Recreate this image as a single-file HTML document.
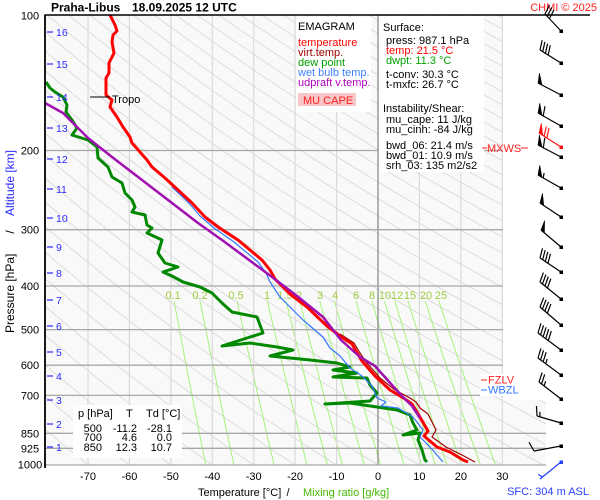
<!DOCTYPE html>
<html>
<head>
<meta charset="utf-8">
<style>
html,body{margin:0;padding:0;background:#fff;}
svg{display:block;font-family:"Liberation Sans",Arial,sans-serif;}
</style>
</head>
<body>
<svg id="s" width="600" height="500" viewBox="0 0 600 500" xmlns="http://www.w3.org/2000/svg">
<defs>
<clipPath id="pc"><polygon points="45,15 503,15 503,400 546,400 546,465 45,465"/></clipPath>
</defs>
<rect width="600" height="500" fill="#fff"/>
<polygon points="45,15 503,15 503,400 546,400 546,465 45,465" fill="#f9f9f9"/>
<g clip-path="url(#pc)">
  <g id="adiab" fill="none" stroke="#d6d6d6" stroke-width="0.8"></g>
  <g id="mix" fill="none" stroke="#a6f27a" stroke-width="1"></g>
  <g id="iso" stroke="#dadada" stroke-width="1.2"></g>
</g>
<!-- 0 C line -->
<line x1="378" y1="15" x2="378" y2="465" stroke="#8c8c8c" stroke-width="1.3"/>
<!-- pressure lines -->
<g stroke="#a8a8a8" stroke-width="1.3">
<line x1="45" y1="150.5" x2="503" y2="150.5"/>
<line x1="45" y1="229.7" x2="503" y2="229.7"/>
<line x1="45" y1="286" x2="503" y2="286"/>
<line x1="45" y1="329.6" x2="503" y2="329.6"/>
<line x1="45" y1="365.2" x2="503" y2="365.2"/>
<line x1="45" y1="395.4" x2="503" y2="395.4"/>
<line x1="45" y1="433.3" x2="546" y2="433.3"/>
<line x1="45" y1="448.3" x2="546" y2="448.3"/>
<line x1="45" y1="465" x2="546" y2="465"/>
</g>
<!-- mixing ratio labels -->
<g font-size="11" fill="#9ccc3c" text-anchor="middle">
<text x="173" y="299">0.1</text>
<text x="200" y="299">0.2</text>
<text x="236" y="299">0.5</text>
<text x="267" y="299">1</text>
<text x="285" y="299">1.5</text>
<text x="299" y="299">2</text>
<text x="320" y="299">3</text>
<text x="335" y="299">4</text>
<text x="356" y="299">6</text>
<text x="372" y="299">8</text>
<text x="385" y="299">10</text>
<text x="397" y="299">12</text>
<text x="410" y="299">15</text>
<text x="426" y="299">20</text>
<text x="441" y="299">25</text>
</g>
<!-- legend box -->
<rect x="296" y="17" width="75" height="95" fill="#fff"/>
<g font-size="11">
<text x="298" y="30" fill="#000">EMAGRAM</text>
<text x="298" y="46" fill="#ff0000">temperature</text>
<text x="298" y="56" fill="#a00000">virt.temp.</text>
<text x="298" y="66" fill="#00a000">dew point</text>
<text x="298" y="76" fill="#3f7fff">wet bulb temp.</text>
<text x="298" y="86" fill="#b000c0">udpraft v.temp.</text>
</g>
<rect x="298" y="93" width="58" height="13" fill="#f8c6c6"/>
<text x="303" y="104" font-size="11" fill="#ff2020">MU CAPE</text>
<!-- info box -->
<rect x="379" y="16" width="105" height="156" fill="#fff"/>
<g font-size="11" fill="#000">
<text x="383" y="31">Surface:</text>
<text x="386" y="44">press: 987.1 hPa</text>
<text x="386" y="54" fill="#ff0000">temp: 21.5 °C</text>
<text x="386" y="64" fill="#00a000">dwpt: 11.3 °C</text>
<text x="386" y="78">t-conv: 30.3 °C</text>
<text x="386" y="88">t-mxfc: 26.7 °C</text>
<text x="383" y="112">Instability/Shear:</text>
<text x="386" y="123">mu_cape: 11 J/kg</text>
<text x="386" y="133">mu_cinh: -84 J/kg</text>
<text x="386" y="149">bwd_06: 21.4 m/s</text>
<text x="386" y="159">bwd_01: 10.9 m/s</text>
<text x="386" y="169">srh_03: 135 m2/s2</text>
</g>
<!-- MXWS -->
<line x1="482" y1="148" x2="487" y2="148" stroke="#ff2020" stroke-width="1"/>
<text x="487" y="152" font-size="11" fill="#ff2020">MXWS</text>
<line x1="521" y1="148" x2="528" y2="148" stroke="#ff2020" stroke-width="1"/>
<!-- table -->
<rect x="73" y="405" width="109" height="53" fill="#fff"/>
<g font-size="11" fill="#000">
<text x="78" y="417">p [hPa]</text>
<text x="126" y="417">T</text>
<text x="146" y="417">Td [°C]</text>
<g text-anchor="end">
<text x="102" y="432">500</text><text x="137" y="432">-11.2</text><text x="172" y="432">-28.1</text>
<text x="102" y="441">700</text><text x="137" y="441">4.6</text><text x="172" y="441">0.0</text>
<text x="102" y="451">850</text><text x="137" y="451">12.3</text><text x="172" y="451">10.7</text>
</g>
</g>
<!-- curves -->
<polyline fill="none" stroke="#008800" stroke-width="3" stroke-linejoin="round" points="46,82 50,88 55,92 63,97 67,105 66,112 72,120 77,128 72,135 88,140 97,147 98,158 108,167 112,177 122,183 125,193 132,200 135,207 132,212 145,215 147,225 152,228 147,233 162,240 158,253 165,263 178,267 163,272 172,276 183,282 200,287 212,293 222,303 232,312 257,317 263,333 247,338 222,346 250,343 277,347 293,350 270,356 310,360 337,363 350,367 333,370 357,373 333,377 367,378 370,385 377,393 370,401 325,404 350,403 377,407 397,410 410,415 413,423 417,430 403,435 420,433 418,440 422,450 425,460 427,462"/>
<polyline fill="none" stroke="#3377ff" stroke-width="1.2" stroke-linejoin="round" points="172,187 188,202 200,216 214,228 234,242 258,262 266,273 270,282 280,297 290,307 303,320 323,337 330,348 340,356 350,368 362,376 372,386 377,398 386,402 381,406 398,408 413,417 423,430 420,437 430,447 443,462"/>
<polyline fill="none" stroke="#ff0000" stroke-width="3" stroke-linejoin="round" points="110,15 115,25 117,31 113,35 112,42 114,53 109,63 109,73 106,78 106,95 112,100 110,107 117,117 123,127 130,137 132,143 140,152 147,160 152,167 165,178 178,190 192,203 205,217 218,227 238,240 262,260 270,270 275,279 290,294 307,307 327,326 340,336 352,344 356,351 362,361 375,376 390,390 405,399 412,404 417,412 421,419 428,431 424,436 437,447 450,452 463,460 468,462"/>
<polyline fill="none" stroke="#a00000" stroke-width="1.2" stroke-linejoin="round" points="340,334 354,343 360,353 366,362 380,378 395,390 410,398 416,402 420,408 428,414 436,430 432,437 446,447 462,455 475,462"/>
<polyline fill="none" stroke="#a010b0" stroke-width="2.5" stroke-linejoin="round" points="45,103 63,113 88,138 112,157 142,180 172,203 198,223 222,240 245,257 272,277 297,296 323,317 341,340 360,357 375,366 392,385 402,396 412,406 420,418"/>
<!-- tropo -->
<line x1="90" y1="97" x2="110" y2="97" stroke="#000" stroke-width="1"/>
<text x="112" y="103" font-size="11" fill="#000">Tropo</text>
<!-- FZLV/WBZL -->
<rect x="480" y="374" width="44" height="22" fill="#fff"/>
<line x1="481" y1="380" x2="487" y2="380" stroke="#ff2020"/>
<text x="488" y="383.5" font-size="11" fill="#ff2020">FZLV</text>
<line x1="481" y1="390" x2="487" y2="390" stroke="#3377ff"/>
<text x="488" y="393.5" font-size="11" fill="#3377ff">WBZL</text>
<!-- axes -->
<line x1="45" y1="15" x2="590" y2="15" stroke="#000" stroke-width="1.6"/>
<line x1="45" y1="14.5" x2="45" y2="468" stroke="#000" stroke-width="1.8"/>
<!-- pressure labels -->
<g font-size="11" fill="#000" text-anchor="middle">
<text x="30" y="19.5">100</text>
<text x="30" y="154.5">200</text>
<text x="30" y="233.7">300</text>
<text x="30" y="290">400</text>
<text x="30" y="333.6">500</text>
<text x="30" y="369.2">600</text>
<text x="30" y="399.4">700</text>
<text x="30" y="437.3">850</text>
<text x="30" y="452.3">925</text>
<text x="30" y="468.5">1000</text>
</g>
<!-- altitude ticks -->
<g stroke="#2a2aff" stroke-width="1.2">
<line x1="47" y1="32" x2="53" y2="32"/><line x1="47" y1="64" x2="53" y2="64"/>
<line x1="47" y1="97" x2="53" y2="97"/><line x1="47" y1="128" x2="53" y2="128"/>
<line x1="47" y1="159" x2="53" y2="159"/><line x1="47" y1="189" x2="53" y2="189"/>
<line x1="47" y1="218" x2="53" y2="218"/><line x1="47" y1="247" x2="53" y2="247"/>
<line x1="47" y1="273" x2="53" y2="273"/><line x1="47" y1="300" x2="53" y2="300"/>
<line x1="47" y1="326" x2="53" y2="326"/><line x1="47" y1="352" x2="53" y2="352"/>
<line x1="47" y1="376" x2="53" y2="376"/><line x1="47" y1="400" x2="53" y2="400"/>
<line x1="47" y1="424" x2="53" y2="424"/><line x1="47" y1="447" x2="53" y2="447"/>
</g>
<g font-size="10.5" fill="#2a2aff">
<text x="56" y="36">16</text><text x="56" y="68">15</text>
<text x="56" y="101">14</text><text x="56" y="132">13</text>
<text x="56" y="163">12</text><text x="56" y="193">11</text>
<text x="56" y="222">10</text><text x="56" y="251">9</text>
<text x="56" y="277">8</text><text x="56" y="304">7</text>
<text x="56" y="330">6</text><text x="56" y="356">5</text>
<text x="56" y="380">4</text><text x="56" y="404">3</text>
<text x="56" y="428">2</text><text x="56" y="451">1</text>
</g>
<!-- x labels -->
<g font-size="11" fill="#000" text-anchor="middle">
<text x="88" y="480">-70</text>
<text x="129.4" y="480">-60</text>
<text x="170.9" y="480">-50</text>
<text x="212.3" y="480">-40</text>
<text x="253.7" y="480">-30</text>
<text x="295.1" y="480">-20</text>
<text x="336.6" y="480">-10</text>
<text x="378" y="480">0</text>
<text x="419.4" y="480">10</text>
<text x="460.9" y="480">20</text>
<text x="502.3" y="480">30</text>
</g>
<text x="198" y="496" font-size="11" fill="#000">Temperature [°C]</text>
<text x="288" y="496" font-size="11" fill="#000" text-anchor="middle">/</text>
<text x="303" y="496" font-size="11" fill="#44b800">Mixing ratio [g/kg]</text>
<!-- y title -->
<text transform="translate(14,333) rotate(-90)" font-size="12" fill="#000">Pressure [hPa]</text>
<text transform="translate(14,232) rotate(-90)" font-size="12" fill="#000" text-anchor="middle">/</text>
<text transform="translate(14,150) rotate(-90)" font-size="12" fill="#2a2aff" text-anchor="end">Altitude [km]</text>
<!-- header -->
<text x="51" y="11.5" font-size="12" font-weight="bold" fill="#000">Praha-Libus</text>
<text x="132" y="11.5" font-size="12" font-weight="bold" fill="#000">18.09.2025 12 UTC</text>
<text x="597" y="11" font-size="11" fill="#ff2020" text-anchor="end">CHMI © 2025</text>
<text x="589" y="495" font-size="11" fill="#2a40ff" text-anchor="end">SFC: 304 m ASL</text>
<g id="barbs"></g>
</svg>
<script>
(function(){
var NS='http://www.w3.org/2000/svg';
function X(t){return 378+4.143*t;}
function Y(p){return 15+450*Math.log(p/100)/Math.LN10;}
function pl(g,pts){var e=document.createElementNS(NS,'polyline');e.setAttribute('points',pts.join(' '));g.appendChild(e);}
var ad=document.getElementById('adiab');
for(var th=-80;th<=330;th+=10){
  var pts=[];
  for(var p=100;p<=1000;p+=10){var T=(th+273.15)*Math.pow(p/1000,0.2857)-273.15;pts.push(X(T).toFixed(1)+','+Y(p).toFixed(1));}
  pl(ad,pts);
}
var mx=document.getElementById('mix');
[0.1,0.2,0.5,1,1.5,2,3,4,6,8,10,12,15,20,25].forEach(function(w){
  var pts=[];
  for(var p=432;p<=1000.1;p+=8){var pp=Math.min(p,1000);var e=w*pp/(622+w);var l=Math.log(e/6.112);var T=243.5*l/(17.67-l);pts.push(X(T).toFixed(1)+','+Y(pp).toFixed(1));}
  var e2=w*1000/(622+w),l2=Math.log(e2/6.112),T2=243.5*l2/(17.67-l2);pts.push(X(T2).toFixed(1)+','+Y(1000).toFixed(1));
  pl(mx,pts);
});
var iso=document.getElementById('iso');
for(var t=-70;t<=30;t+=10){if(t===0)continue;var l=document.createElementNS(NS,'line');var x=X(t).toFixed(1);l.setAttribute('x1',x);l.setAttribute('x2',x);l.setAttribute('y1',15);l.setAttribute('y2',465);iso.appendChild(l);}
var bg=document.getElementById('barbs');
function el(n,a){var e=document.createElementNS(NS,n);for(var k in a)e.setAttribute(k,a[k]);bg.appendChild(e);return e;}
function barb(x0,y0,x1,y1,f,c){
  c=c||'#000';
  el('line',{x1:x0,y1:y0,x2:x1,y2:y1,stroke:c,'stroke-width':1.2});
  el('rect',{x:x0-1.5,y:y0-1.5,width:3.5,height:3.5,fill:c});
  var L=Math.hypot(x1-x0,y1-y0),dx=(x1-x0)/L,dy=(y1-y0)/L;
  var px=-dy,py=dx;if(py>0){px=-px;py=-py;}
  var bx=px+0.35*dx,by=py+0.35*dy,bl=Math.hypot(bx,by);bx/=bl;by/=bl;
  var pos=0;
  for(var i=0;i<f.length;i++){
    var sx=x1-dx*pos,sy=y1-dy*pos,ch=f[i];
    if(ch==='F'){el('polygon',{points:sx+','+sy+' '+(sx+bx*10)+','+(sy+by*10)+' '+(sx-dx*4.5)+','+(sy-dy*4.5),fill:c,stroke:c,'stroke-width':0.6});pos+=6;}
    else if(ch==='B'){el('line',{x1:sx,y1:sy,x2:sx+bx*10,y2:sy+by*10,stroke:c,'stroke-width':1.2});pos+=3.2;}
    else {if(pos===0)pos=3.2;sx=x1-dx*pos;sy=y1-dy*pos;el('line',{x1:sx,y1:sy,x2:sx+bx*5,y2:sy+by*5,stroke:c,'stroke-width':1.2});pos+=3.2;}
  }
}
barb(561,31,545,14,'BBB');
barb(561,63,540,50,'BBBB');
barb(561,95,538,83,'F');
barb(561,126,538,113,'FB');
barb(561,157,538,145,'FB');
barb(561,147,539,133,'FBB','#ff1010');
barb(561,188,538,175,'FH');
barb(561,217,540,203,'F');
barb(561,247,541,230,'F');
barb(561,272,540,258,'BBBB');
barb(561,299,540,282,'BBBB');
barb(561,325,540,307,'BBBB');
barb(561,350,538,333,'BBBBB');
barb(561,375,538,358,'BBBH');
barb(561,399,539,382,'BBH');
barb(561,423,537,416,'BH');
barb(561,446,534,451,'B');
barb(561,462,540,479,'H','#2040ff');
})();
</script>
</body>
</html>
